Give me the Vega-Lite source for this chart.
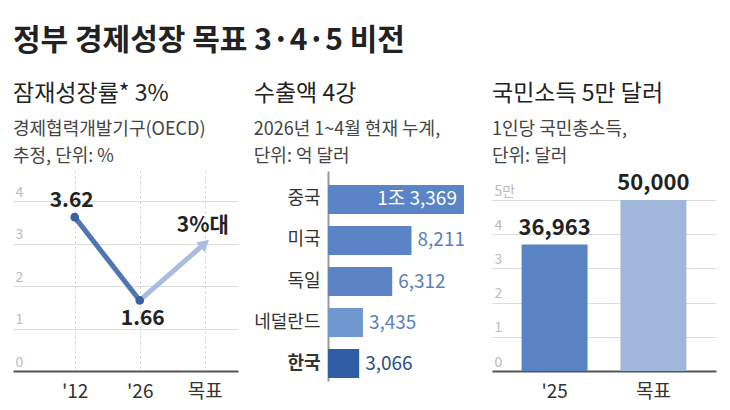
{
  "$schema": "https://vega.github.io/schema/vega-lite/v6.json",
  "background": "white",
  "padding": {"left": 13, "top": 26, "right": 5, "bottom": 5},
  "resolve": {"scale": {"color": "independent"}},
  "config": {
    "font": "Noto Sans CJK KR",
    "view": {"stroke": null},
    "concat": {"spacing": 15},
    "title": {
      "anchor": "start",
      "frame": "bounds",
      "fontSize": 23,
      "fontWeight": "normal",
      "color": "#222222",
      "subtitleFontSize": 18,
      "subtitleColor": "#444444",
      "subtitleLineHeight": 27,
      "subtitlePadding": 15,
      "offset": 5
    }
  },
  "title": {
    "text": "정부 경제성장 목표 3·4·5 비전",
    "fontSize": 30,
    "fontWeight": "bold",
    "color": "#222222",
    "anchor": "start",
    "frame": "group",
    "offset": 27
  },
  "hconcat": [
    {
      "width": 225,
      "height": 200,
      "title": {"text": "잠재성장률* 3%", "subtitle": ["경제협력개발기구(OECD)", "추정, 단위: %"]},
      "data": {
        "values": [
          {"period": "'12", "rate": 3.62, "seg": "실적", "label": "3.62"},
          {"period": "'26", "rate": 1.66, "seg": "실적", "label": "1.66"},
          {"period": "'26", "rate": 1.66, "seg": "목표", "label": ""},
          {"period": "목표", "rate": 3.0, "seg": "목표", "label": "3%대"}
        ]
      },
      "encoding": {
        "x": {
          "field": "period",
          "type": "ordinal",
          "scale": {"type": "point", "domain": ["'12", "'26", "목표"], "padding": 0.73, "align": 0.65},
          "axis": {
            "title": null,
            "labelAngle": 0,
            "domain": true,
            "domainColor": "#555555",
            "domainWidth": 2,
            "ticks": false,
            "tickSize": 0,
            "labelFontSize": 19,
            "labelColor": "#333333",
            "labelPadding": 11,
            "grid": true,
            "gridDash": [2, 3],
            "gridColor": "#cccccc"
          }
        },
        "y": {
          "field": "rate",
          "type": "quantitative",
          "scale": {"domain": [0, 4.706], "nice": false},
          "axis": {
            "title": null,
            "values": [0, 1, 2, 3, 4],
            "grid": true,
            "gridColor": "#dddddd",
            "domain": false,
            "ticks": false,
            "tickSize": 0,
            "labelAlign": "left",
            "labelPadding": -2,
            "labelBaseline": "bottom",
            "labelOffset": -2,
            "labelColor": "#bbbbbb",
            "labelFontSize": 14
          }
        }
      },
      "layer": [
        {
          "mark": {"type": "line", "strokeWidth": 5},
          "encoding": {
            "color": {"field": "seg", "type": "nominal", "scale": {"domain": ["실적", "목표"], "range": ["#4f76b3", "#a9bedf"]}, "legend": null}
          }
        },
        {
          "transform": [{"filter": "datum.seg === '목표' && datum.period === '목표'"}],
          "mark": {"type": "point", "shape": "triangle-up", "angle": 48, "size": 170, "filled": true, "opacity": 1, "color": "#a9bedf"}
        },
        {
          "transform": [{"filter": "datum.seg === '실적'"}],
          "mark": {"type": "point", "shape": "circle", "size": 75, "filled": true, "opacity": 1, "color": "#3a62a0"}
        },
        {
          "transform": [{"filter": "datum.label === '3.62'"}],
          "mark": {"type": "text", "fontSize": 21, "fontWeight": "bold", "color": "#222222", "dy": -16, "dx": -3},
          "encoding": {"text": {"field": "label"}}
        },
        {
          "transform": [{"filter": "datum.label === '1.66'"}],
          "mark": {"type": "text", "fontSize": 21, "fontWeight": "bold", "color": "#222222", "dy": 19, "dx": 3},
          "encoding": {"text": {"field": "label"}}
        },
        {
          "transform": [{"filter": "datum.label === '3%대'"}],
          "mark": {"type": "text", "fontSize": 21, "fontWeight": "bold", "color": "#222222", "dy": -18, "dx": -2},
          "encoding": {"text": {"field": "label"}}
        }
      ]
    },
    {
      "width": 149,
      "height": 210,
      "title": {"text": "수출액 4강", "subtitle": ["2026년 1~4월 현재 누계,", "단위: 억 달러"]},
      "data": {
        "values": [
          {"country": "중국", "value": 13369, "label": "1조 3,369"},
          {"country": "미국", "value": 8211, "label": "8,211"},
          {"country": "독일", "value": 6312, "label": "6,312"},
          {"country": "네덜란드", "value": 3435, "label": "3,435"},
          {"country": "한국", "value": 3066, "label": "3,066"}
        ]
      },
      "encoding": {
        "y": {
          "field": "country",
          "type": "nominal",
          "sort": ["중국", "미국", "독일", "네덜란드", "한국"],
          "scale": {"paddingInner": 0.293, "paddingOuter": 0.207, "align": 0.824},
          "axis": {
            "title": null,
            "domainColor": "#999999",
            "domainWidth": 2,
            "ticks": false,
            "tickSize": 0,
            "labelPadding": 8,
            "labelFontSize": 18,
            "labelColor": "#333333",
            "labelFontWeight": {"condition": {"test": "datum.value === '한국'", "value": "bold"}, "value": "normal"}
          }
        },
        "x": {
          "field": "value",
          "type": "quantitative",
          "scale": {"domain": [0, 14650], "nice": false},
          "axis": null
        }
      },
      "layer": [
        {
          "mark": {"type": "bar"},
          "encoding": {
            "color": {
              "field": "country",
              "type": "nominal",
              "scale": {"domain": ["중국", "미국", "독일", "네덜란드", "한국"], "range": ["#5b84c6", "#5b84c6", "#5c84c4", "#7097d0", "#2f5ea6"]},
              "legend": null
            }
          }
        },
        {
          "transform": [{"filter": "datum.country !== '중국'"}],
          "mark": {"type": "text", "align": "left", "dx": 6, "fontSize": 19},
          "encoding": {
            "text": {"field": "label"},
            "color": {"condition": {"test": "datum.country === '한국'", "value": "#2b4f86"}, "value": "#5b7fb8"}
          }
        },
        {
          "transform": [{"filter": "datum.country === '중국'"}],
          "mark": {"type": "text", "align": "right", "dx": -7, "fontSize": 19, "color": "white"},
          "encoding": {"text": {"field": "label"}}
        }
      ]
    },
    {
      "width": 224,
      "height": 200,
      "title": {"text": "국민소득 5만 달러", "subtitle": ["1인당 국민총소득,", "단위: 달러"]},
      "data": {
        "values": [
          {"year": "'25", "income": 36963, "label": "36,963"},
          {"year": "목표", "income": 50000, "label": "50,000"}
        ]
      },
      "encoding": {
        "x": {
          "field": "year",
          "type": "nominal",
          "sort": ["'25", "목표"],
          "scale": {"paddingInner": 0.333, "paddingOuter": 0.3},
          "axis": {
            "title": null,
            "labelAngle": 0,
            "domainColor": "#555555",
            "domainWidth": 2,
            "ticks": false,
            "tickSize": 0,
            "labelFontSize": 19,
            "labelColor": "#333333",
            "labelPadding": 11
          }
        },
        "y": {
          "field": "income",
          "type": "quantitative",
          "scale": {"domain": [0, 58480], "nice": false},
          "axis": {
            "title": null,
            "values": [0, 10000, 20000, 30000, 40000, 50000],
            "labelExpr": "datum.value === 50000 ? '5만' : '' + (datum.value / 10000)",
            "grid": true,
            "gridColor": "#dddddd",
            "domain": false,
            "ticks": false,
            "tickSize": 0,
            "labelAlign": "left",
            "labelPadding": -2,
            "labelBaseline": "bottom",
            "labelOffset": -2,
            "labelColor": "#bbbbbb",
            "labelFontSize": 14
          }
        }
      },
      "layer": [
        {
          "mark": {"type": "bar"},
          "encoding": {
            "color": {"field": "year", "type": "nominal", "scale": {"domain": ["'25", "목표"], "range": ["#5a83c4", "#a0b6da"]}, "legend": null}
          }
        },
        {
          "mark": {"type": "text", "baseline": "bottom", "dy": -5, "fontSize": 22, "fontWeight": "bold", "color": "#222222"},
          "encoding": {"text": {"field": "label"}}
        }
      ]
    }
  ]
}
